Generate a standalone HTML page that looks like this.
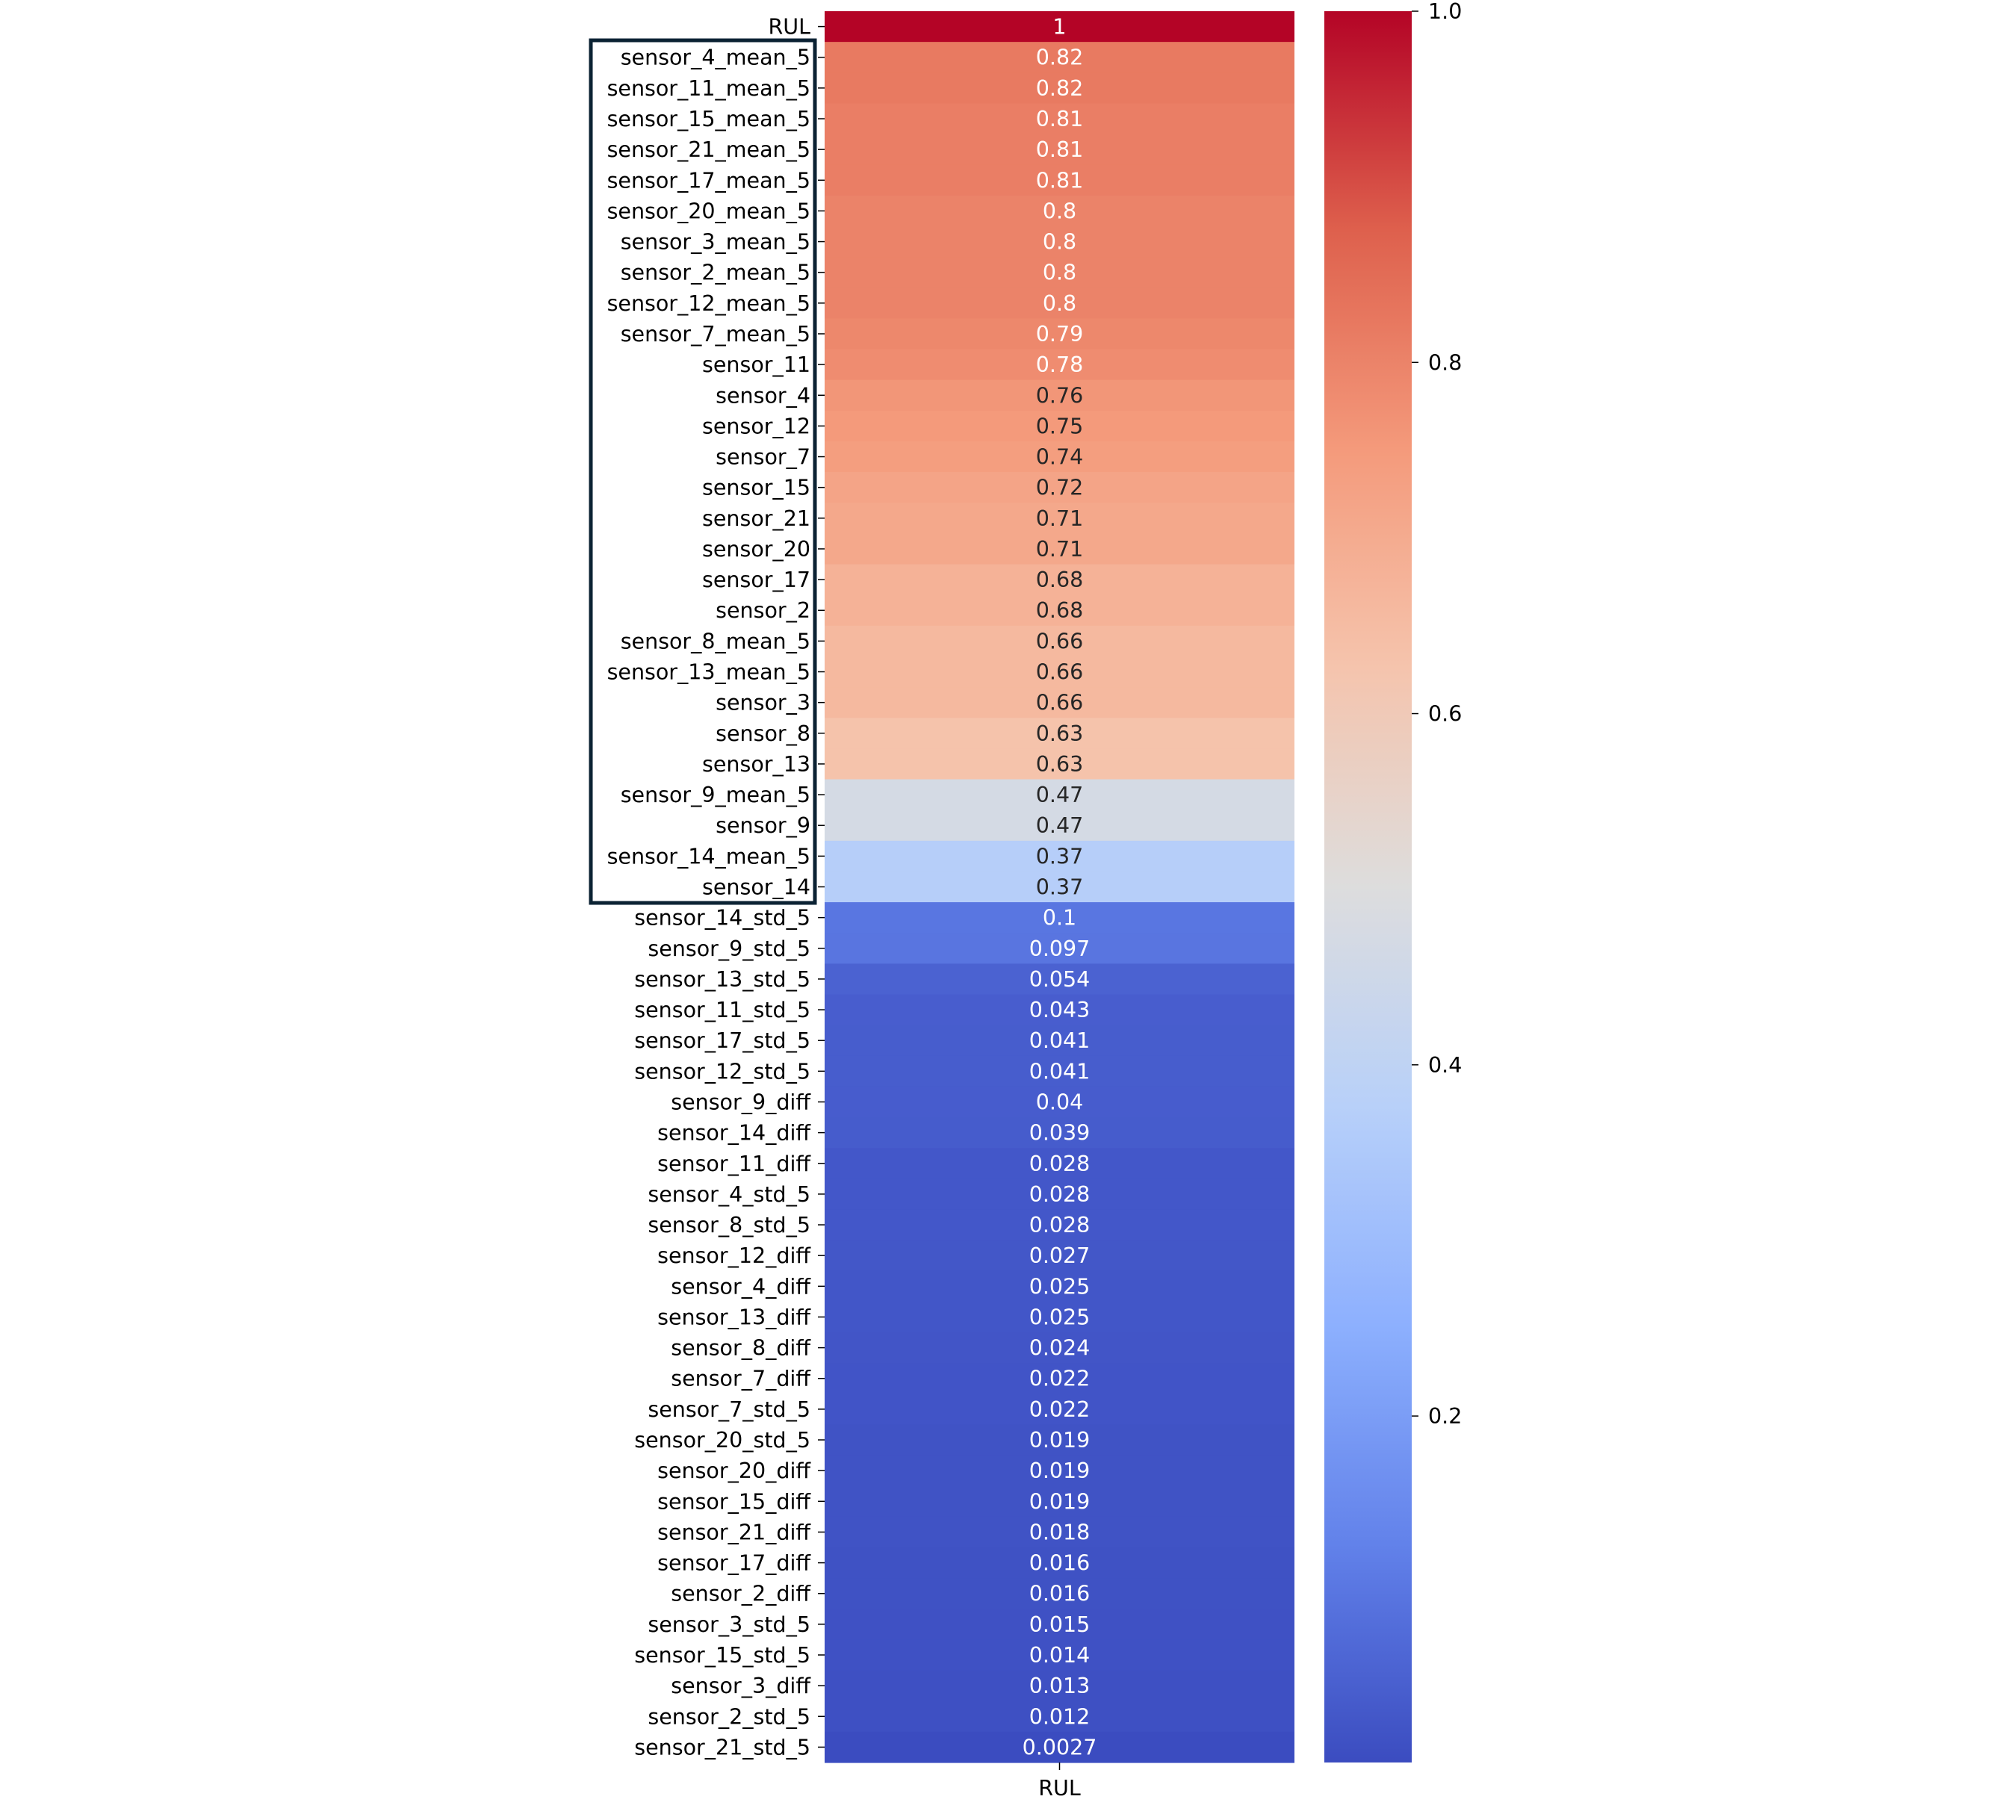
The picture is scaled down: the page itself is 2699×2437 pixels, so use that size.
<!DOCTYPE html>
<html><head><meta charset="utf-8"><style>
html,body{margin:0;padding:0;background:#fff;}
svg text{font-family:"DejaVu Sans","Liberation Sans",sans-serif;}
</style></head><body>
<svg id="chart" width="2699" height="2432" xmlns="http://www.w3.org/2000/svg">
<g id="cells"></g>
<g id="ylabels"></g>
<g id="cbar"></g>
<rect x="791" y="54" width="300" height="1155" fill="none" stroke="#0b2233" stroke-width="5"/>
<line x1="1418.5" y1="2360" x2="1418.5" y2="2370" stroke="#000" stroke-width="1.5"/>
<text x="1418.5" y="2404" font-size="28.5" text-anchor="middle">RUL</text>
</svg>
<script>
const categories = ["RUL","sensor_4_mean_5","sensor_11_mean_5","sensor_15_mean_5","sensor_21_mean_5","sensor_17_mean_5","sensor_20_mean_5","sensor_3_mean_5","sensor_2_mean_5","sensor_12_mean_5","sensor_7_mean_5","sensor_11","sensor_4","sensor_12","sensor_7","sensor_15","sensor_21","sensor_20","sensor_17","sensor_2","sensor_8_mean_5","sensor_13_mean_5","sensor_3","sensor_8","sensor_13","sensor_9_mean_5","sensor_9","sensor_14_mean_5","sensor_14","sensor_14_std_5","sensor_9_std_5","sensor_13_std_5","sensor_11_std_5","sensor_17_std_5","sensor_12_std_5","sensor_9_diff","sensor_14_diff","sensor_11_diff","sensor_4_std_5","sensor_8_std_5","sensor_12_diff","sensor_4_diff","sensor_13_diff","sensor_8_diff","sensor_7_diff","sensor_7_std_5","sensor_20_std_5","sensor_20_diff","sensor_15_diff","sensor_21_diff","sensor_17_diff","sensor_2_diff","sensor_3_std_5","sensor_15_std_5","sensor_3_diff","sensor_2_std_5","sensor_21_std_5"];
const values = [1,0.82,0.82,0.81,0.81,0.81,0.8,0.8,0.8,0.8,0.79,0.78,0.76,0.75,0.74,0.72,0.71,0.71,0.68,0.68,0.66,0.66,0.66,0.63,0.63,0.47,0.47,0.37,0.37,0.1,0.097,0.054,0.043,0.041,0.041,0.04,0.039,0.028,0.028,0.028,0.027,0.025,0.025,0.024,0.022,0.022,0.019,0.019,0.019,0.018,0.016,0.016,0.015,0.014,0.013,0.012,0.0027];
const labels = ["1","0.82","0.82","0.81","0.81","0.81","0.8","0.8","0.8","0.8","0.79","0.78","0.76","0.75","0.74","0.72","0.71","0.71","0.68","0.68","0.66","0.66","0.66","0.63","0.63","0.47","0.47","0.37","0.37","0.1","0.097","0.054","0.043","0.041","0.041","0.04","0.039","0.028","0.028","0.028","0.027","0.025","0.025","0.024","0.022","0.022","0.019","0.019","0.019","0.018","0.016","0.016","0.015","0.014","0.013","0.012","0.0027"];
const cbarTicks = [0.2,0.4,0.6,0.8,1.0];
const cbarTickLabels = ["0.2","0.4","0.6","0.8","1.0"];

const NS="http://www.w3.org/2000/svg";
const X0=1104,X1=1733,Y0=15,Y1=2360,FS=28.5,DY=10;
const vmin=Math.min(...values), vmax=Math.max(...values);
const rowH=(Y1-Y0)/categories.length;
const yPos=i=>Y0+i*rowH;
const stops=[[0,59,76,192],[0.125,98,130,234],[0.25,141,176,254],[0.375,184,208,249],[0.5,221,221,221],[0.625,245,196,173],[0.75,244,154,123],[0.875,222,96,77],[1,180,4,38]];
function cmap(v){let t=(v-vmin)/(vmax-vmin);t=Math.max(0,Math.min(1,t));
 for(let k=1;k<stops.length;k++){if(t<=stops[k][0]){const a=stops[k-1],b=stops[k],f=(t-a[0])/(b[0]-a[0]);
 return [0,1,2].map(j=>Math.round(a[j+1]+(b[j+1]-a[j+1])*f));}}return [180,4,38];}
function lum(c){const l=c.map(x=>{x/=255;return x<=0.03928?x/12.92:Math.pow((x+0.055)/1.055,2.4)});return 0.2126*l[0]+0.7152*l[1]+0.0722*l[2];}
function mk(tag,attrs){const e=document.createElementNS(NS,tag);for(const k in attrs)e.setAttribute(k,attrs[k]);return e;}
function txt(x,y,anchor,fill){return mk('text',{x:x,y:y,'font-size':FS,'text-anchor':anchor,fill:fill});}
const cells=document.getElementById('cells'),yl=document.getElementById('ylabels'),cb=document.getElementById('cbar');
categories.forEach((c,i)=>{
 const col=cmap(values[i]);
 const r=mk('rect',{x:X0,y:yPos(i),width:X1-X0,height:rowH+0.6,fill:`rgb(${col})`});
 
 
 cells.appendChild(r);
 const t=txt((X0+X1)/2,yPos(i)+rowH/2+DY,'middle',lum(col)>0.408?'#262626':'#ffffff');
 t.textContent=labels[i];
 
 
 cells.appendChild(t);
 const tk=mk('line',{x1:X0-9,x2:X0,y1:yPos(i)+rowH/2,y2:yPos(i)+rowH/2,stroke:'#000','stroke-width':1.5});
 
 
 yl.appendChild(tk);
 const lt=txt(X0-19,yPos(i)+rowH/2+DY,'end','#000');
 lt.textContent=c;
 
 
 yl.appendChild(lt);
});
const CX0=1773,CX1=1890;
const defs=mk('defs',{});const g=mk('linearGradient',{id:'cg',x1:0,y1:1,x2:0,y2:0});
for(let k=0;k<=40;k++){const v=vmin+(vmax-vmin)*k/40;const s=mk('stop',{offset:k/40,'stop-color':`rgb(${cmap(v)})`});g.appendChild(s);}
defs.appendChild(g);cb.appendChild(defs);
const cr=mk('rect',{x:CX0,y:Y0,width:CX1-CX0,height:Y1-Y0,fill:'url(#cg)'});


cb.appendChild(cr);
const cy=v=>Y1-(v-vmin)/(vmax-vmin)*(Y1-Y0);
cbarTicks.forEach((v,k)=>{
 const l=mk('line',{x1:CX1,x2:CX1+9,y1:cy(v),y2:cy(v),stroke:'#000','stroke-width':1.5});
 
 
 cb.appendChild(l);
 const t=txt(CX1+22,cy(v)+DY,'start','#000');
 t.textContent=cbarTickLabels[k];
 
 
 cb.appendChild(t);
});
</script>
</body></html>
